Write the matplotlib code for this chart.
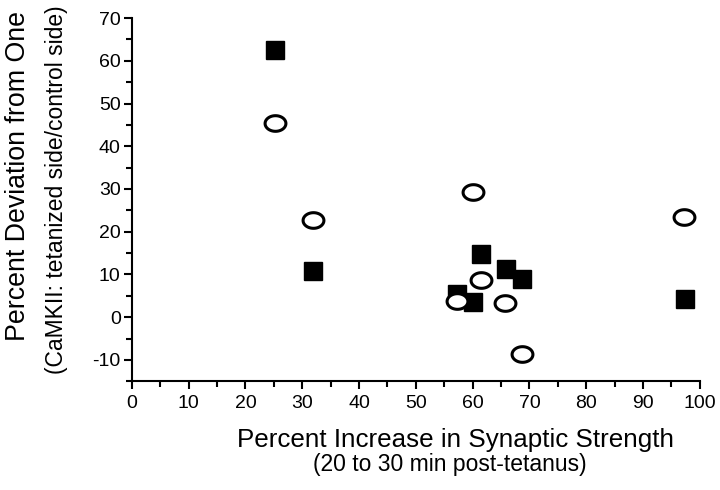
import numpy as np
import matplotlib
matplotlib.use("Agg")
import matplotlib.pyplot as plt
from matplotlib.path import Path
from matplotlib.ticker import MultipleLocator

plt.rcParams['font.family'] = ['Liberation Sans', 'DejaVu Sans']
plt.rcParams['axes.unicode_minus'] = False

# filled squares
sq_x = [25.2, 31.9, 61.4, 65.8, 68.7, 57.2, 60.0, 97.4]
sq_y = [62.5, 10.8, 14.8, 11.3, 9.0, 5.4, 3.6, 4.3]
# open circles
ci_x = [25.2, 31.9, 60.0, 97.2, 61.4, 57.2, 65.7, 68.7]
ci_y = [45.4, 22.8, 29.2, 23.5, 8.7, 3.8, 3.3, -8.6]

x_ticks = [0, 10, 20, 30, 40, 50, 60, 70, 80, 90, 100]
y_ticks = [-10, 0, 10, 20, 30, 40, 50, 60, 70]

# slightly flattened circle marker
t = np.linspace(0, 2 * np.pi, 60)
ellipse = Path(np.column_stack([np.cos(t), 0.75 * np.sin(t)]), closed=True)

fig = plt.figure(figsize=(7.2, 4.9), dpi=100)
ax = fig.add_axes([0.183, 0.222, 0.789, 0.741])

ax.plot(sq_x, sq_y, linestyle='none', marker='s', markersize=13,
        color='black', zorder=3)
ax.plot(ci_x, ci_y, linestyle='none', marker=ellipse, markersize=15,
        markerfacecolor='white', markeredgecolor='black',
        markeredgewidth=2.2, zorder=4)

ax.set_xlim(0, 100)
ax.set_ylim(-15, 70)
ax.set_xticks(x_ticks)
ax.set_yticks(y_ticks)
ax.xaxis.set_minor_locator(MultipleLocator(5))
ax.yaxis.set_minor_locator(MultipleLocator(5))

for s in ['top', 'right']:
    ax.spines[s].set_visible(False)
for s in ['left', 'bottom']:
    ax.spines[s].set_linewidth(1.5)

ax.tick_params(which='major', direction='out', length=6, width=1.5,
               labelsize=14, pad=2)
ax.tick_params(which='minor', direction='out', length=4, width=1.5)
ax.tick_params(axis='x', which='major', pad=4)

fig.text(0.632, 0.102, 'Percent Increase in Synaptic Strength',
         ha='center', va='center', fontsize=18.7)
fig.text(0.625, 0.052, '(20 to 30 min post-tetanus)',
         ha='center', va='center', fontsize=16.5)
fig.text(0.025, 0.641, 'Percent Deviation from One', rotation=90,
         ha='center', va='center', fontsize=19.3)
fig.text(0.079, 0.612, '(CaMKII: tetanized side/control side)', rotation=90,
         ha='center', va='center', fontsize=16.5)

fig.savefig('out.png', dpi=100)
